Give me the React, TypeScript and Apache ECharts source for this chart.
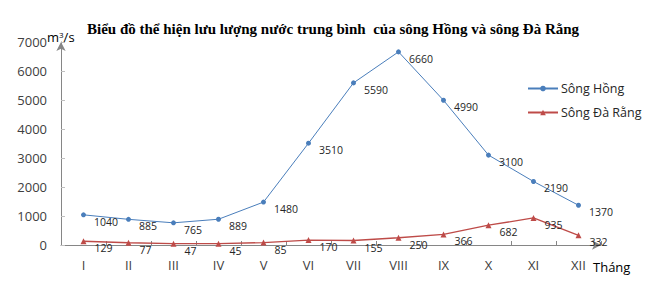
import React, { useEffect, useRef } from "react";
import * as echarts from "echarts";

const months = ["I", "II", "III", "IV", "V", "VI", "VII", "VIII", "IX", "X", "XI", "XII"];
const songHong = [1040, 885, 765, 889, 1480, 3510, 5590, 6660, 4990, 3100, 2190, 1370];
const songDaRang = [129, 77, 47, 45, 85, 170, 155, 250, 366, 682, 935, 332];
const seriesNames = ["Sông Hồng", "Sông Đà Rằng"];
const titleText = "Biểu đồ thể hiện lưu lượng nước trung bình  của sông Hồng và sông Đà Rằng";

const SANS = "'Open Sans', 'Noto Sans', sans-serif";

export default function App() {
  const ref = useRef<HTMLDivElement>(null);
  useEffect(() => {
    if (!ref.current) return;
    const chart = echarts.init(ref.current, null, { renderer: "svg" });
    const labelCfg = {
      show: true,
      position: "right",
      distance: 8,
      offset: [0, 7],
      fontFamily: SANS,
      fontSize: 10.5,
      color: "#262626",
    };
    chart.setOption({
      animation: false,
      backgroundColor: "#ffffff",
      title: {
        text: titleText,
        left: 87,
        top: 21,
        padding: 0,
        textStyle: {
          fontFamily: "'Liberation Serif', 'Times New Roman', serif",
          fontWeight: "bold",
          fontSize: 15,
          color: "#000000",
        },
      },
      legend: {
        orient: "vertical",
        left: 522,
        top: 77,
        itemWidth: 30,
        itemHeight: 7,
        itemGap: 11,
        textStyle: { fontFamily: SANS, fontSize: 12.5, color: "#262626", padding: [0, 0, 0, -2] },
        data: seriesNames,
      },
      grid: { left: 61, right: 56, top: 42, bottom: 58, containLabel: false },
      xAxis: {
        type: "category",
        data: months,
        boundaryGap: true,
        axisLine: {
          show: true,
          lineStyle: { color: "#868686", width: 1 },
          symbol: ["none", "arrow"],
          symbolSize: [7, 9],
        },
        axisTick: { show: true, inside: true, length: 4, lineStyle: { color: "#868686" } },
        axisLabel: { fontFamily: SANS, fontSize: 13, color: "#404040", margin: 13 },
        splitLine: { show: false },
      },
      yAxis: {
        type: "value",
        min: 0,
        max: 7000,
        interval: 1000,
        axisLine: {
          show: true,
          lineStyle: { color: "#868686", width: 1 },
          symbol: ["none", "arrow"],
          symbolSize: [7, 9],
        },
        axisTick: { show: true, inside: true, length: 4, lineStyle: { color: "#bfbfbf" } },
        axisLabel: {
          fontFamily: SANS,
          fontSize: 13,
          color: "#404040",
          margin: 14,
          formatter: (v: number) => String(v),
        },
        splitLine: { show: false },
      },
      graphic: [
        {
          type: "text",
          left: 47,
          top: 30,
          style: {
            text: "{a|m}{b|3}{a|/s}",
            rich: {
              a: { fontFamily: SANS, fontSize: 13, color: "#262626" },
              b: { fontFamily: SANS, fontSize: 8, color: "#262626", padding: [0, 0, 6, 0] },
            },
          },
        },
        {
          type: "text",
          left: 593,
          top: 260,
          style: { text: "Tháng", fontFamily: SANS, fontSize: 13, color: "#000000" },
        },
      ],
      series: [
        {
          name: seriesNames[0],
          type: "line",
          data: songHong,
          symbol: "circle",
          symbolSize: 5,
          lineStyle: { color: "#4A7EBB", width: 1 },
          itemStyle: { color: "#4A7EBB" },
          label: labelCfg,
        },
        {
          name: seriesNames[1],
          type: "line",
          data: songDaRang,
          symbol: "triangle",
          symbolSize: 6,
          lineStyle: { color: "#BE4B48", width: 1.3 },
          itemStyle: { color: "#BE4B48" },
          label: labelCfg,
        },
      ],
    });
    return () => chart.dispose();
  }, []);
  return <div ref={ref} style={{ width: 657, height: 303, position: "absolute", left: 0, top: 0 }} />;
}
